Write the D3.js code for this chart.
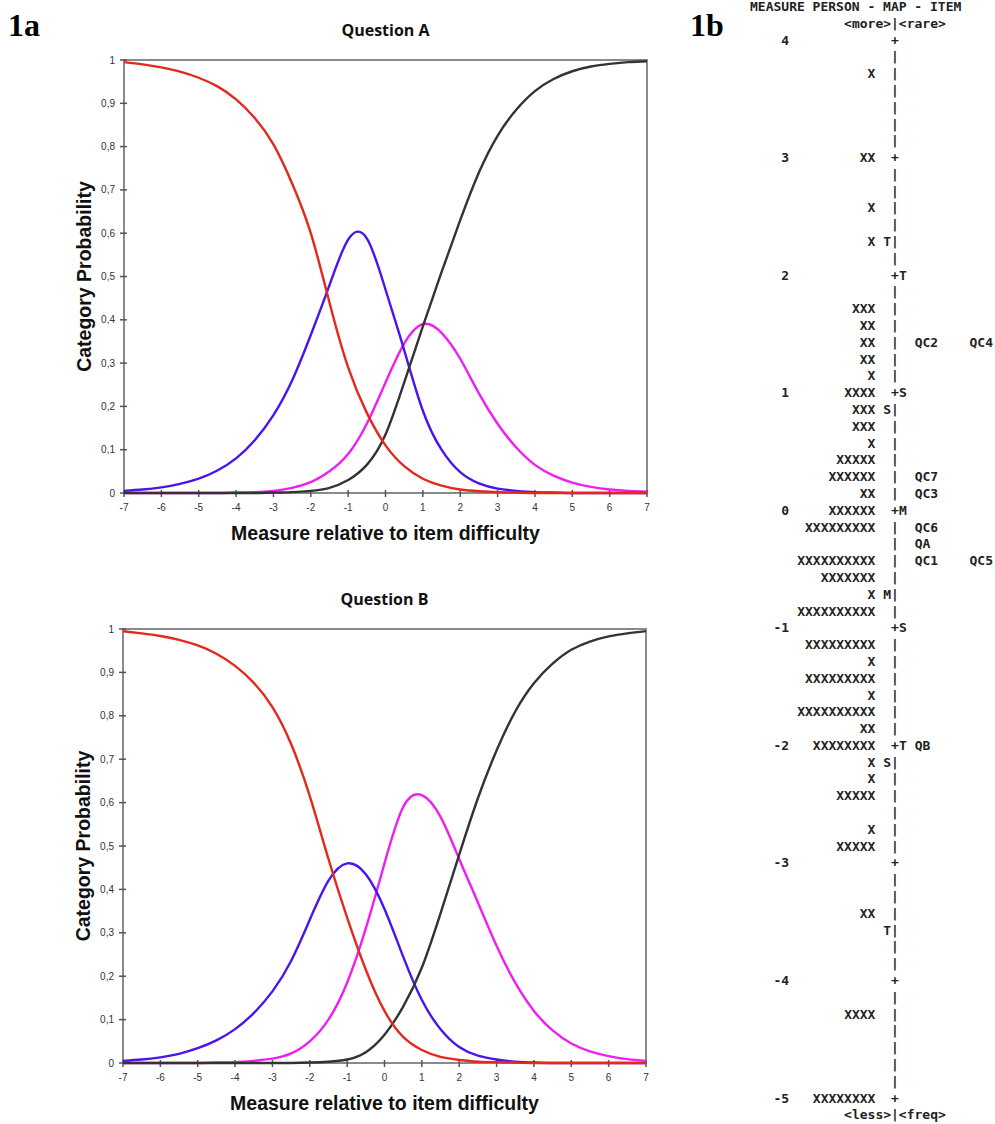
<!DOCTYPE html>
<html>
<head>
<meta charset="utf-8">
<script src="https://cdnjs.cloudflare.com/ajax/libs/d3/7.8.5/d3.min.js"></script>
<style>
  body { margin: 0; background: #fff; }
  svg { display: block; }
</style>
</head>
<body>
<div id="chart"></div>
<script>
// measure points where the curves were read
var xs = [-7, -6.5, -6, -5.5, -5, -4.5, -4, -3.5, -3, -2.5, -2, -1.5, -1, -0.5, 0,
          0.5, 1, 1.5, 2, 2.5, 3, 3.5, 4, 4.5, 5, 5.5, 6, 6.5, 7];

// Question A category probabilities
var redA     = [0.995, 0.99, 0.983, 0.973, 0.959, 0.939, 0.909, 0.866, 0.805, 0.715, 0.60, 0.44, 0.29, 0.185, 0.11,
                0.062, 0.033, 0.017, 0.008, 0.004, 0.002, 0.001, 0, 0, 0, 0, 0, 0, 0];
var blueA    = [0.005, 0.008, 0.013, 0.021, 0.033, 0.052, 0.08, 0.122, 0.18, 0.26, 0.365, 0.48, 0.585, 0.588, 0.47,
                0.33, 0.19, 0.10, 0.048, 0.022, 0.01, 0.005, 0.002, 0.001, 0, 0, 0, 0, 0];
var magentaA = [0, 0, 0, 0, 0, 0, 0.001, 0.002, 0.005, 0.012, 0.025, 0.05, 0.09, 0.16, 0.255,
                0.345, 0.39, 0.37, 0.31, 0.23, 0.16, 0.105, 0.065, 0.04, 0.024, 0.014, 0.008, 0.005, 0.003];
var blackA   = [0, 0, 0, 0, 0, 0, 0, 0, 0.001, 0.002, 0.005, 0.012, 0.03, 0.065, 0.135,
                0.255, 0.385, 0.51, 0.63, 0.74, 0.825, 0.885, 0.928, 0.956, 0.974, 0.985, 0.991, 0.995, 0.997];

// Question B category probabilities
var redB     = [0.995, 0.99, 0.984, 0.975, 0.962, 0.943, 0.915, 0.876, 0.82, 0.735, 0.615, 0.47, 0.335, 0.215, 0.12,
                0.06, 0.03, 0.014, 0.007, 0.003, 0.002, 0.001, 0, 0, 0, 0, 0, 0, 0];
var blueB    = [0.005, 0.008, 0.013, 0.021, 0.034, 0.052, 0.078, 0.115, 0.165, 0.235, 0.33, 0.42, 0.46, 0.435, 0.355,
                0.245, 0.145, 0.078, 0.037, 0.017, 0.008, 0.003, 0.001, 0, 0, 0, 0, 0, 0];
var magentaB = [0, 0, 0, 0, 0, 0.001, 0.002, 0.005, 0.01, 0.022, 0.05, 0.10, 0.185, 0.31, 0.46,
                0.59, 0.617, 0.567, 0.47, 0.37, 0.27, 0.185, 0.12, 0.075, 0.045, 0.027, 0.016, 0.009, 0.005];
var blackB   = [0, 0, 0, 0, 0, 0, 0, 0, 0, 0, 0.001, 0.003, 0.008, 0.025, 0.065,
                0.13, 0.22, 0.345, 0.48, 0.61, 0.72, 0.81, 0.875, 0.92, 0.952, 0.971, 0.983, 0.99, 0.995];

var xTicks = [-7, -6, -5, -4, -3, -2, -1, 0, 1, 2, 3, 4, 5, 6, 7];
var yTicks = [0, 0.1, 0.2, 0.3, 0.4, 0.5, 0.6, 0.7, 0.8, 0.9, 1];

// person - item map, one entry per row from measure 4 down to -5 (7 rows per unit)
var measureLabels = ['4', '3', '2', '1', '0', '-1', '-2', '-3', '-4', '-5'];
var personCounts = [0, 0, 1, 0, 0, 0, 0, 2, 0, 0, 1, 0, 1, 0,
                    0, 0, 3, 2, 2, 2, 1, 4, 3, 3, 1, 5, 6, 2,
                    6, 9, 0, 10, 7, 1, 10, 0, 9, 1, 9, 1, 10, 2,
                    8, 1, 1, 5, 0, 1, 5, 0, 0, 0, 2, 0, 0, 0,
                    0, 0, 4, 0, 0, 0, 0, 8];
var personMarks = [{row: 12, mark: 'T'}, {row: 22, mark: 'S'}, {row: 33, mark: 'M'}, {row: 43, mark: 'S'}, {row: 53, mark: 'T'}];
var itemMarks = [{row: 14, mark: 'T'}, {row: 21, mark: 'S'}, {row: 28, mark: 'M'}, {row: 35, mark: 'S'}, {row: 42, mark: 'T'}];
var items = [
  {row: 18, names: ['QC2', 'QC4']},
  {row: 26, names: ['QC7']},
  {row: 27, names: ['QC3']},
  {row: 29, names: ['QC6']},
  {row: 30, names: ['QA']},
  {row: 31, names: ['QC1', 'QC5']},
  {row: 42, names: ['QB']}
];

var width = 995;
var height = 1124;

var svg = d3.select('#chart')
  .append('svg')
  .attr('width', width)
  .attr('height', height);

var fmt = function(d) { return String(d).replace('.', ','); };

function drawPanel(title, top, bottom, left, right, series) {
  var x = d3.scaleLinear().domain([-7, 7]).range([left, right]);
  var y = d3.scaleLinear().domain([0, 1]).range([bottom, top]);
  var g = svg.append('g');

  // frame
  g.append('rect')
    .attr('x', left)
    .attr('y', top)
    .attr('width', right - left)
    .attr('height', bottom - top)
    .style('fill', 'none')
    .style('stroke', '#8a8a8a')
    .style('stroke-width', 2);

  // y axis ticks
  g.selectAll('.ytick')
    .data(yTicks)
    .enter().append('line')
    .attr('x1', left - 4)
    .attr('x2', left + 3)
    .attr('y1', function(d) { return y(d); })
    .attr('y2', function(d) { return y(d); })
    .style('stroke', '#555')
    .style('stroke-width', 1.5);

  g.selectAll('.ylab')
    .data(yTicks)
    .enter().append('text')
    .attr('x', left - 9)
    .attr('y', function(d) { return y(d); })
    .attr('dy', '0.35em')
    .style('text-anchor', 'end')
    .style('font-family', 'Liberation Sans, Arial, sans-serif')
    .style('font-size', '10px')
    .style('fill', '#333')
    .text(fmt);

  // x axis ticks
  g.selectAll('.xtick')
    .data(xTicks)
    .enter().append('line')
    .attr('x1', function(d) { return x(d); })
    .attr('x2', function(d) { return x(d); })
    .attr('y1', bottom - 3)
    .attr('y2', bottom + 4)
    .style('stroke', '#555')
    .style('stroke-width', 1.5);

  g.selectAll('.xlab')
    .data(xTicks)
    .enter().append('text')
    .attr('x', function(d) { return x(d); })
    .attr('y', bottom + 18)
    .style('text-anchor', 'middle')
    .style('font-family', 'Liberation Sans, Arial, sans-serif')
    .style('font-size', '10px')
    .style('fill', '#333')
    .text(function(d) { return d; });

  // curves
  var line = d3.line()
    .x(function(d, i) { return x(xs[i]); })
    .y(function(d) { return y(d); })
    .curve(d3.curveNatural);

  series.forEach(function(s) {
    g.append('path')
      .attr('d', line(s.values))
      .style('fill', 'none')
      .style('stroke', s.color)
      .style('stroke-width', 2.4);
  });

  // titles
  g.append('text')
    .attr('x', (left + right) / 2)
    .attr('y', top - 24)
    .style('text-anchor', 'middle')
    .style('font-family', 'Open Sans, sans-serif')
    .style('font-weight', 700)
    .style('font-size', '16px')
    .style('fill', '#111')
    .text(title);

  g.append('text')
    .attr('x', (left + right) / 2)
    .attr('y', bottom + 47)
    .style('text-anchor', 'middle')
    .style('font-family', 'Liberation Sans, Arial, sans-serif')
    .style('font-weight', 'bold')
    .style('font-size', '19.5px')
    .style('fill', '#111')
    .text('Measure relative to item difficulty');

  g.append('text')
    .attr('transform', 'translate(' + (left - 33) + ',' + ((top + bottom) / 2) + ') rotate(-90)')
    .style('text-anchor', 'middle')
    .style('font-family', 'Liberation Sans, Arial, sans-serif')
    .style('font-weight', 'bold')
    .style('font-size', '19.5px')
    .style('fill', '#111')
    .text('Category Probability');
}

drawPanel('Question A', 60, 493, 124, 647, [
  {values: magentaA, color: '#f01ef0'},
  {values: blueA, color: '#4a14ee'},
  {values: blackA, color: '#333333'},
  {values: redA, color: '#e3281c'}
]);

drawPanel('Question B', 629, 1063, 123, 646, [
  {values: magentaB, color: '#f01ef0'},
  {values: blueB, color: '#4a14ee'},
  {values: blackB, color: '#333333'},
  {values: redB, color: '#e3281c'}
]);

// panel letters
svg.append('text')
  .attr('x', 8)
  .attr('y', 36)
  .style('font-family', 'Liberation Serif, serif')
  .style('font-weight', 'bold')
  .style('font-size', '32px')
  .text('1a');

svg.append('text')
  .attr('x', 690)
  .attr('y', 36)
  .style('font-family', 'Liberation Serif, serif')
  .style('font-weight', 'bold')
  .style('font-size', '32px')
  .text('1b');

// person - item map, drawn on a monospace grid
var colW = 7.84;
var mapLeft = 750;
var rowY = d3.scaleLinear().domain([0, 63]).range([40, 1098]);
var colX = function(c) { return mapLeft + c * colW; };

var map = svg.append('g')
  .style('font-family', 'DejaVu Sans Mono, Liberation Mono, monospace')
  .style('font-size', '13px')
  .style('font-weight', 'bold')
  .style('fill', '#222');

function mapText(col, row, str, anchor) {
  map.append('text')
    .attr('x', colX(col))
    .attr('y', rowY(row))
    .attr('dy', '0.35em')
    .style('text-anchor', anchor || 'start')
    .text(str);
}

mapText(0, -2, 'MEASURE PERSON - MAP - ITEM');
mapText(12, -1, '<more>|<rare>');
mapText(12, 64, '<less>|<freq>');

measureLabels.forEach(function(m, i) {
  mapText(5, i * 7, m, 'end');
});

personCounts.forEach(function(n, r) {
  if (n > 0) mapText(16, r, 'X'.repeat(n), 'end');
  mapText(18, r, r % 7 === 0 ? '+' : '|');
});

personMarks.forEach(function(d) { mapText(17, d.row, d.mark); });
itemMarks.forEach(function(d) { mapText(19, d.row, d.mark); });
items.forEach(function(d) {
  d.names.forEach(function(name, j) { mapText(21 + j * 7, d.row, name); });
});
</script>
</body>
</html>
